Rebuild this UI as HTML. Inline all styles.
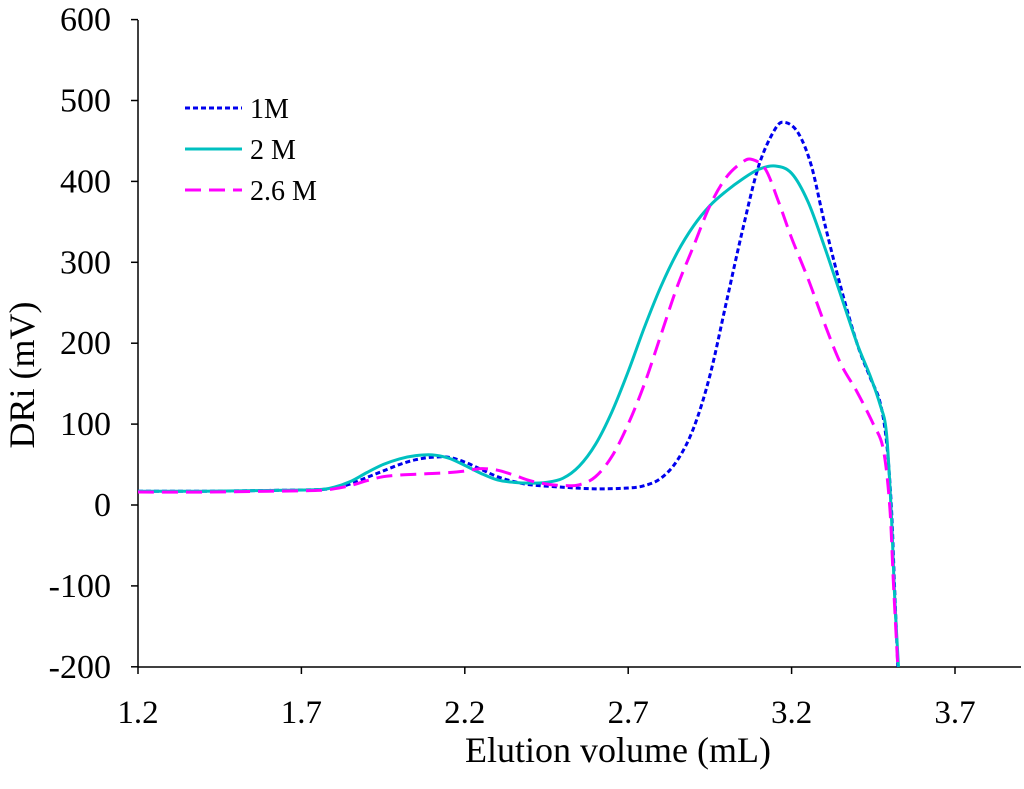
<!DOCTYPE html>
<html><head><meta charset="utf-8"><style>
body{margin:0;background:#fff}
svg text{font-family:"Liberation Serif",serif;fill:#000}
</style></head><body>
<svg id="chart" width="1024" height="784">
<g id="axes"></g><g id="series"></g><g id="legend"></g>
</svg>
<script>
const xTicks=[1.2,1.7,2.2,2.7,3.2,3.7];
const yTicks=[-200,-100,0,100,200,300,400,500,600];
const s1x=[1.2,1.4,1.6,1.75,1.8,1.85,1.9,1.95,2.0,2.05,2.1,2.15,2.2,2.25,2.3,2.35,2.4,2.5,2.6,2.7,2.75,2.8,2.85,2.9,2.95,3.0,3.05,3.1,3.15,3.18,3.22,3.26,3.3,3.35,3.4,3.44,3.47,3.49,3.505,3.515,3.525];
const s1y=[17,17,18,19,21,26,34,42,50,56,59,59,53,44,35,29,25,22,20,21,24,33,55,95,160,250,340,420,465,473,460,420,350,270,200,158,128,80,0,-100,-200];
const s2x=[1.2,1.4,1.6,1.75,1.8,1.85,1.9,1.95,2.0,2.05,2.1,2.15,2.2,2.25,2.3,2.35,2.4,2.45,2.5,2.55,2.6,2.65,2.7,2.75,2.8,2.85,2.9,2.95,3.0,3.05,3.1,3.15,3.2,3.25,3.3,3.35,3.4,3.44,3.47,3.49,3.505,3.515,3.527];
const s2y=[17,17,18,19,22,29,40,50,57,61,62,58,49,39,31,28,27,28,33,48,75,115,165,220,270,312,345,370,388,403,415,419,410,375,320,260,200,160,125,90,-10,-110,-200];
const s3x=[1.2,1.4,1.6,1.75,1.8,1.85,1.9,1.95,2.0,2.05,2.1,2.15,2.2,2.25,2.3,2.35,2.4,2.45,2.5,2.55,2.6,2.65,2.7,2.75,2.8,2.85,2.9,2.95,3.0,3.05,3.08,3.12,3.16,3.2,3.25,3.3,3.35,3.4,3.45,3.48,3.5,3.512,3.525];
const s3y=[16,16,17,18,20,24,30,35,37,38,39,40,42,45,43,37,30,26,24,25,35,60,100,150,210,270,320,370,405,424,427,415,375,330,280,225,175,140,100,70,0,-100,-200];
const seriesNames=["1M","2 M","2.6 M"];
const X=v=>138+(v-1.2)*326.8;
const Y=v=>505-v*0.809;
const NS="http://www.w3.org/2000/svg";
function mk(t,a,p){const e=document.createElementNS(NS,t);for(const k in a)e.setAttribute(k,a[k]);p.appendChild(e);return e;}
const ax=document.getElementById('axes');
let l=mk('line',{x1:138,y1:20,x2:138,y2:667,stroke:'#000','stroke-width':1.5},ax);


l=mk('line',{x1:138,y1:667,x2:1021,y2:667,stroke:'#000','stroke-width':1.5},ax);


yTicks.forEach(v=>{
 mk('line',{x1:131,x2:138,y1:Y(v),y2:Y(v),stroke:'#000','stroke-width':1.5},ax);
 const t=mk('text',{x:111,y:Y(v)+11,'text-anchor':'end','font-size':34},ax);t.textContent=v;
 
 
});
xTicks.forEach(v=>{
 mk('line',{x1:X(v),x2:X(v),y1:667,y2:674,stroke:'#000','stroke-width':1.5},ax);
 const t=mk('text',{x:X(v),y:723,'text-anchor':'middle','font-size':33},ax);t.textContent=v.toFixed(1);
 
 
});
let t=mk('text',{x:618,y:762,'text-anchor':'middle','font-size':36},ax);t.textContent='Elution volume (mL)';


t=mk('text',{x:0,y:0,'text-anchor':'middle','font-size':36,transform:'translate(34,375) rotate(-90)'},ax);t.textContent='DRi (mV)';


function path(xs,ys){
 const p=xs.map((x,i)=>[X(x),Y(ys[i])]);
 let d='M'+p[0][0]+','+p[0][1];
 for(let i=0;i<p.length-1;i++){
  const p0=p[i-1]||p[i],p1=p[i],p2=p[i+1],p3=p[i+2]||p2;
  const c1=[p1[0]+(p2[0]-p0[0])/6,p1[1]+(p2[1]-p0[1])/6];
  const c2=[p2[0]-(p3[0]-p1[0])/6,p2[1]-(p3[1]-p1[1])/6];
  d+=` C${c1[0]},${c1[1]} ${c2[0]},${c2[1]} ${p2[0]},${p2[1]}`;
 }
 return d;
}
const sg=document.getElementById('series');
const styles=[{stroke:'#0000ee',dash:'5,3'},{stroke:'#00c0c0',dash:''},{stroke:'#ff00ff',dash:'16,8'}];
[[s1x,s1y],[s2x,s2y],[s3x,s3y]].forEach((d,i)=>{
 const p=mk('path',{d:path(d[0],d[1]),fill:'none',stroke:styles[i].stroke,'stroke-width':3,'stroke-dasharray':styles[i].dash},sg);
 
 
});
const lg=document.getElementById('legend');
seriesNames.forEach((n,i)=>{
 const y=108+i*41;
 const e=mk('line',{x1:185,x2:242,y1:y,y2:y,stroke:styles[i].stroke,'stroke-width':3,'stroke-dasharray':styles[i].dash},lg);
 
 
 const tx=mk('text',{x:250,y:y+10,'font-size':28},lg);tx.textContent=n;
 
 
});
</script>
</body></html>
